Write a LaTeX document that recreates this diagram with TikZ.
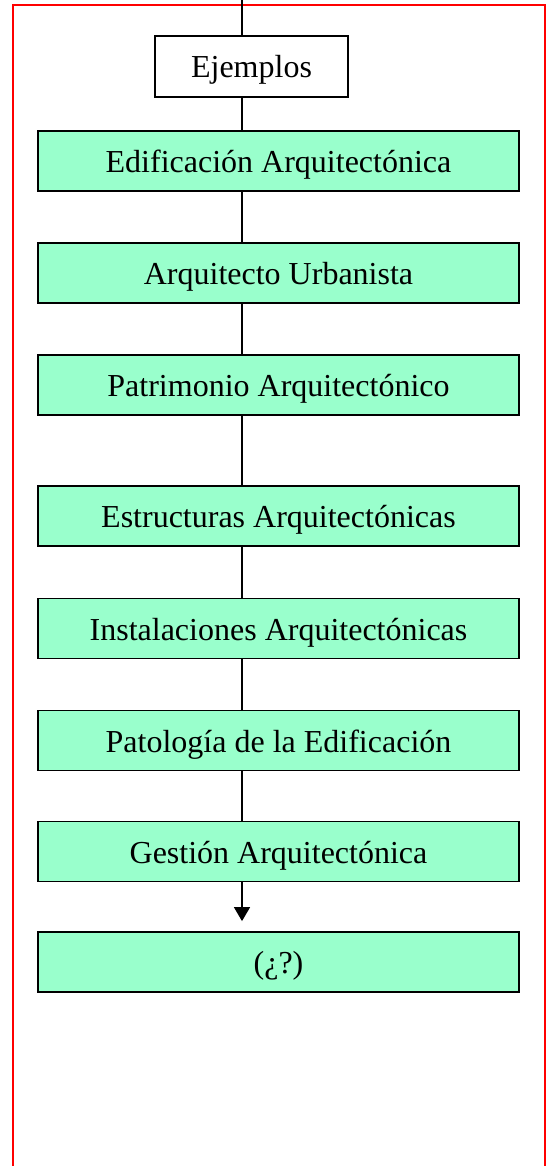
\documentclass[tikz,border=0pt]{standalone}
\usepackage{fontspec}
\setmainfont{Liberation Serif}
\usetikzlibrary{arrows.meta}
\definecolor{mint}{HTML}{99FFCC}
\definecolor{framered}{HTML}{FF0000}
\tikzset{
  boxtext/.style={inner sep=0pt, text height=23pt, text depth=0pt, font=\fontsize{32}{36}\selectfont},
  greenbox/.style={boxtext, draw=black, line width=1.8pt, fill=mint, minimum width=481pt, minimum height=60pt},
  whitebox/.style={boxtext, draw=black, line width=1.8pt, fill=white, minimum width=193pt, minimum height=61pt},
  link/.style={draw=black, line width=1.5pt},
  frameline/.style={draw=framered, line width=2pt}
}
\begin{document}
\begin{tikzpicture}[x=1pt,y=-1pt]
\useasboundingbox (0,0) rectangle (547,1166);
\draw[frameline] (13,1170) -- (13,5) -- (545,5) -- (545,1170);
\coordinate (top) at (242,0);
\node[whitebox] (ej) at (251.5,66.5) {Ejemplos};
\node[greenbox] (b1) at (278.5,161) {Edificación Arquitectónica};
\node[greenbox] (b2) at (278.5,273) {Arquitecto Urbanista};
\node[greenbox] (b3) at (278.5,385) {Patrimonio Arquitectónico};
\node[greenbox] (b4) at (278.5,516) {Estructuras Arquitectónicas};
\node[greenbox] (b5) at (278.5,628.5) {Instalaciones Arquitectónicas};
\node[greenbox] (b6) at (278.5,740.5) {Patología de la Edificación};
\node[greenbox] (b7) at (278.5,851.5) {Gestión Arquitectónica};
\node[greenbox] (b8) at (278.5,962) {(¿?)};
\draw[link] (top) -- (top |- ej.north);
\draw[link] (top |- ej.south) -- (top |- b1.north);
\draw[link] (top |- b1.south) -- (top |- b2.north);
\draw[link] (top |- b2.south) -- (top |- b3.north);
\draw[link] (top |- b3.south) -- (top |- b4.north);
\draw[link] (top |- b4.south) -- (top |- b5.north);
\draw[link] (top |- b5.south) -- (top |- b6.north);
\draw[link] (top |- b6.south) -- (top |- b7.north);
\draw[link, -{Triangle[length=14pt,width=16pt]}, shorten >=10pt] (top |- b7.south) -- (top |- b8.north);
\end{tikzpicture}
\end{document}
